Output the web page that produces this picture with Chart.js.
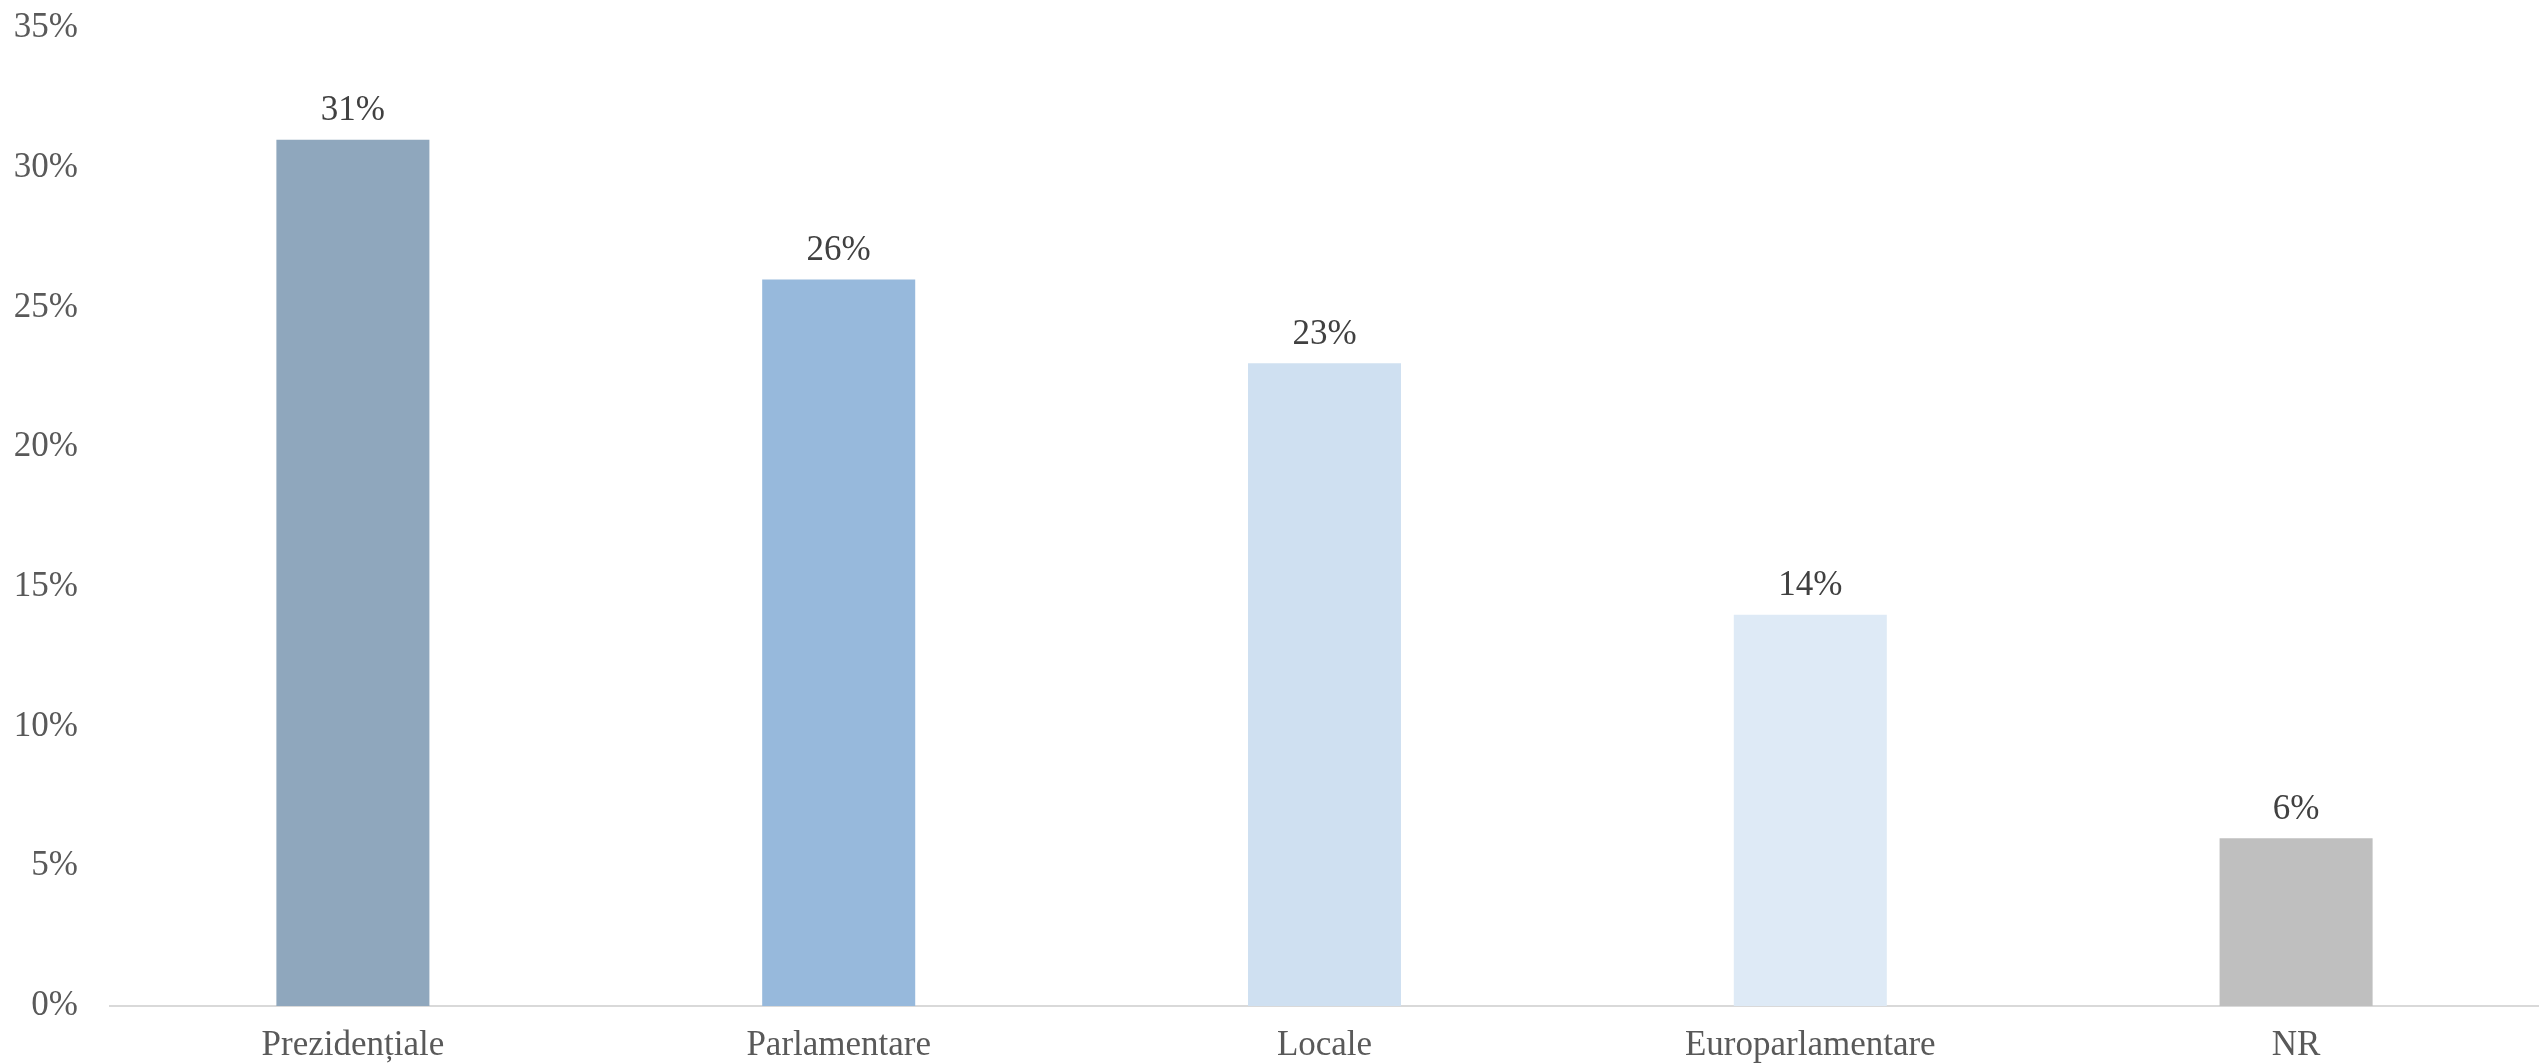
<!DOCTYPE html>
<html>
<head>
<meta charset="utf-8">
<script src="https://cdn.jsdelivr.net/npm/chart.js@4.4.1/dist/chart.umd.min.js"></script>
<style>
  html, body { margin: 0; padding: 0; background: #fff; }
  canvas { display: block; }
</style>
</head>
<body>
<canvas id="chart" width="2539" height="1064"></canvas>
<script>
const categories = ['Prezidențiale', 'Parlamentare', 'Locale', 'Europarlamentare', 'NR'];
const values = [31, 26, 23, 14, 6];
const barColors = ['#8FA7BD', '#97B9DC', '#CFE0F1', '#DEEAF6', '#BFBFBF'];
const yMax = 35;
const yStep = 5;

const fontFamily = '"Liberation Serif", "DejaVu Serif", serif';
const fontSize = 35;

// draws the "31%" style labels above each bar
const valueLabels = {
    id: 'valueLabels',
    afterDatasetsDraw(chart) {
        const ctx = chart.ctx;
        const meta = chart.getDatasetMeta(0);
        ctx.save();
        ctx.font = fontSize + 'px ' + fontFamily;
        ctx.fillStyle = '#404040';
        ctx.textAlign = 'center';
        ctx.textBaseline = 'middle';
        meta.data.forEach((bar, i) => {
            ctx.fillText(values[i] + '%', bar.x, bar.y - 29);
        });
        ctx.restore();
    }
};

new Chart(document.getElementById('chart').getContext('2d'), {
    type: 'bar',
    data: {
        labels: categories,
        datasets: [{
            data: values,
            backgroundColor: barColors,
            borderWidth: 0,
            categoryPercentage: 1,
            barPercentage: 0.315
        }]
    },
    options: {
        responsive: false,
        animation: false,
        layout: { padding: { top: 28, right: 0, bottom: 0, left: 0 } },
        plugins: {
            legend: { display: false },
            tooltip: { enabled: false }
        },
        scales: {
            x: {
                grid: { display: false, drawTicks: false },
                border: { display: true, color: '#D9D9D9', width: 2 },
                ticks: {
                    color: '#595959',
                    padding: 19,
                    font: { family: fontFamily, size: fontSize }
                },
                afterFit(scale) {
                    scale.height = 58;
                    scale.paddingLeft = 0;
                    scale.paddingRight = 0;
                }
            },
            y: {
                min: 0,
                max: yMax,
                grid: { display: false, drawTicks: false },
                border: { display: false },
                ticks: {
                    stepSize: yStep,
                    color: '#595959',
                    padding: 32,
                    font: { family: fontFamily, size: fontSize },
                    callback: v => v + '%'
                },
                afterFit(scale) {
                    scale.width = 110;
                    scale.paddingTop = 0;
                    scale.paddingBottom = 0;
                }
            }
        }
    },
    plugins: [valueLabels]
});
</script>
</body>
</html>
